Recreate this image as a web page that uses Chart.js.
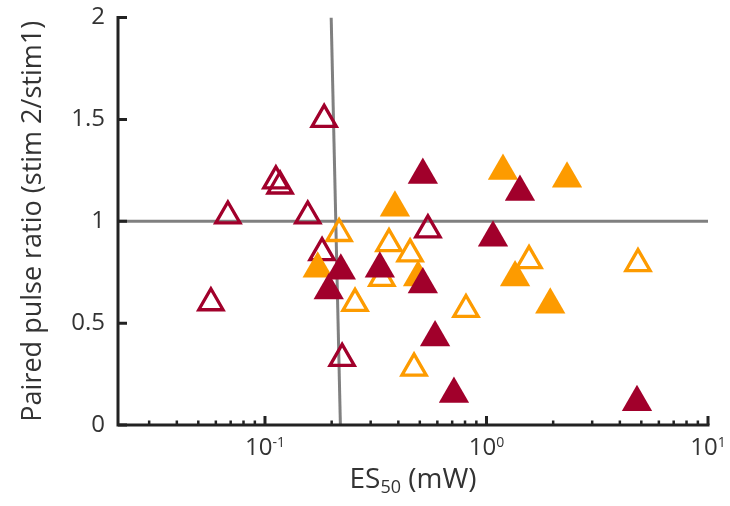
<!DOCTYPE html>
<html>
<head>
<meta charset="utf-8">
<script src="https://cdn.jsdelivr.net/npm/chart.js@4"></script>
<style>
  html, body { margin: 0; padding: 0; background: #fff; }
  #wrap { width: 730px; height: 506px; }
</style>
</head>
<body>
<div id="wrap"><canvas id="chart"></canvas></div>
<script>
// values: ES50 (mW) on x, paired pulse ratio on y
const redOpenX = [0.185, 0.112, 0.117, 0.068, 0.156, 0.181, 0.057, 0.223, 0.544];
const redOpenY = [1.50, 1.198, 1.173, 1.026, 1.026, 0.846, 0.60, 0.327, 0.958];

const redFilledX = [0.516, 1.416, 1.07, 0.330, 0.516, 0.586, 0.713, 4.78, 0.220, 0.194];
const redFilledY = [1.227, 1.144, 0.919, 0.767, 0.69, 0.43, 0.152, 0.112, 0.757, 0.66];

const orangeFilledX = [1.187, 2.31, 0.386, 1.346, 0.491, 1.94, 0.173];
const orangeFilledY = [1.247, 1.208, 1.066, 0.724, 0.724, 0.59, 0.767];

const orangeOpenX = [0.216, 0.255, 0.363, 0.452, 0.337, 1.556, 0.808, 0.471, 4.83];
const orangeOpenY = [0.94, 0.597, 0.89, 0.84, 0.72, 0.807, 0.567, 0.279, 0.792];

// reference lines (gray)
const hLineX = [0.0217, 10];
const hLineY = [1, 1];
const vLineX = [0.199, 0.219];
const vLineY = [2, 0];

// axes
const xMin = 0.0217, xMax = 10;
const yTicks = [0, 0.5, 1, 1.5, 2];
const xDecades = [0.1, 1, 10];
const xExponents = ['-1', '0', '1'];
const xMinorTicks = [0.03, 0.04, 0.05, 0.06, 0.07, 0.08, 0.09,
                     0.2, 0.3, 0.4, 0.5, 0.6, 0.7, 0.8, 0.9,
                     2, 3, 4, 5, 6, 7, 8, 9];

const xTitleMain = 'ES';
const xTitleSub = '50';
const xTitleUnit = ' (mW)';
const yTitle = 'Paired pulse ratio (stim 2/stim1)';

const DARK_RED = '#a1002b';
const ORANGE = '#fd9b00';
const GRAY = '#808080';
const AXIS_COLOR = '#222222';
const TEXT_COLOR = '#333333';
const FONT = '"Open Sans", "Noto Sans", sans-serif';

const toPoints = (xs, ys) => xs.map((x, i) => ({ x: x, y: ys[i] }));

// axis lines, inward ticks and the titles
const axesPlugin = {
    id: 'axesPlugin',
    afterDraw(chart) {
        const ctx = chart.ctx;
        const xs = chart.scales.x;
        const ys = chart.scales.y;
        const area = chart.chartArea;
        ctx.save();

        ctx.strokeStyle = AXIS_COLOR;
        ctx.lineWidth = 3;
        ctx.lineJoin = 'miter';
        ctx.beginPath();
        ctx.moveTo(area.left, area.top - 1.5);
        ctx.lineTo(area.left, area.bottom);
        ctx.lineTo(area.right + 1.5, area.bottom);
        ctx.stroke();

        ctx.beginPath();
        yTicks.forEach(v => {
            const py = ys.getPixelForValue(v);
            ctx.moveTo(area.left, py);
            ctx.lineTo(area.left + 9, py);
        });
        xDecades.forEach(v => {
            const px = xs.getPixelForValue(v);
            ctx.moveTo(px, area.bottom);
            ctx.lineTo(px, area.bottom - 9);
        });
        ctx.stroke();

        ctx.lineWidth = 2.5;
        ctx.beginPath();
        xMinorTicks.forEach(v => {
            const px = xs.getPixelForValue(v);
            ctx.moveTo(px, area.bottom);
            ctx.lineTo(px, area.bottom - 4.5);
        });
        ctx.stroke();

        // x tick labels: 10 with a raised exponent
        ctx.fillStyle = TEXT_COLOR;
        ctx.textBaseline = 'alphabetic';
        ctx.textAlign = 'left';
        xDecades.forEach((v, i) => {
            const px = xs.getPixelForValue(v);
            ctx.font = '24px ' + FONT;
            const wBase = ctx.measureText('10').width;
            ctx.font = '14px ' + FONT;
            const wExp = ctx.measureText(xExponents[i]).width;
            const start = px - (wBase + wExp) / 2;
            ctx.font = '24px ' + FONT;
            ctx.fillText('10', start, 455);
            ctx.font = '14px ' + FONT;
            ctx.fillText(xExponents[i], start + wBase, 447);
        });

        // x title with subscript
        ctx.font = '28px ' + FONT;
        const wMain = ctx.measureText(xTitleMain).width;
        const wUnit = ctx.measureText(xTitleUnit).width;
        ctx.font = '18px ' + FONT;
        const wSub = ctx.measureText(xTitleSub).width;
        const cx = (area.left + area.right) / 2;
        let tx = cx - (wMain + wSub + wUnit) / 2;
        ctx.font = '28px ' + FONT;
        ctx.fillText(xTitleMain, tx, 488);
        tx += wMain;
        ctx.font = '18px ' + FONT;
        ctx.fillText(xTitleSub, tx, 493);
        tx += wSub;
        ctx.font = '28px ' + FONT;
        ctx.fillText(xTitleUnit, tx, 488);

        // y title
        ctx.translate(41, (area.top + area.bottom) / 2);
        ctx.rotate(-Math.PI / 2);
        ctx.textAlign = 'center';
        ctx.font = '27px ' + FONT;
        ctx.fillText(yTitle, 0, 0);

        ctx.restore();
    }
};

const ctx = document.getElementById('chart').getContext('2d');
new Chart(ctx, {
    type: 'scatter',
    data: {
        datasets: [
            {
                label: 'red filled',
                data: toPoints(redFilledX, redFilledY),
                pointStyle: 'triangle',
                pointRadius: 17.5,
                backgroundColor: DARK_RED,
                borderWidth: 0,
                order: 1
            },
            {
                label: 'orange filled',
                data: toPoints(orangeFilledX, orangeFilledY),
                pointStyle: 'triangle',
                pointRadius: 17.5,
                backgroundColor: ORANGE,
                borderWidth: 0,
                order: 2
            },
            {
                label: 'red open',
                data: toPoints(redOpenX, redOpenY),
                pointStyle: 'triangle',
                pointRadius: 14,
                backgroundColor: 'rgba(0,0,0,0)',
                borderColor: DARK_RED,
                borderWidth: 3.3,
                order: 3
            },
            {
                label: 'orange open',
                data: toPoints(orangeOpenX, orangeOpenY),
                pointStyle: 'triangle',
                pointRadius: 14,
                backgroundColor: 'rgba(0,0,0,0)',
                borderColor: ORANGE,
                borderWidth: 3.3,
                order: 4
            },
            {
                label: 'h ref',
                data: toPoints(hLineX, hLineY),
                showLine: true,
                pointRadius: 0,
                borderColor: GRAY,
                borderWidth: 3,
                order: 10
            },
            {
                label: 'v ref',
                data: toPoints(vLineX, vLineY),
                showLine: true,
                pointRadius: 0,
                borderColor: GRAY,
                borderWidth: 3,
                order: 11
            }
        ]
    },
    options: {
        responsive: true,
        maintainAspectRatio: false,
        animation: false,
        events: [],
        layout: { padding: { top: 16, right: 22, left: 0, bottom: 0 } },
        plugins: {
            legend: { display: false },
            tooltip: { enabled: false }
        },
        scales: {
            x: {
                type: 'logarithmic',
                position: 'bottom',
                min: xMin,
                max: xMax,
                grid: { display: false, drawTicks: false },
                border: { display: false },
                ticks: { display: false },
                afterFit: (scale) => {
                    scale.height = 81;
                    scale.paddingLeft = 0;
                    scale.paddingRight = 0;
                }
            },
            y: {
                type: 'linear',
                min: 0,
                max: 2,
                grid: { display: false, drawTicks: false },
                border: { display: false },
                ticks: {
                    stepSize: 0.5,
                    padding: 13,
                    color: TEXT_COLOR,
                    font: { family: FONT, size: 24 },
                    callback: (value) => String(+value)
                },
                afterFit: (scale) => {
                    scale.width = 118;
                    scale.paddingTop = 0;
                    scale.paddingBottom = 0;
                }
            }
        }
    },
    plugins: [axesPlugin]
});
</script>
</body>
</html>
